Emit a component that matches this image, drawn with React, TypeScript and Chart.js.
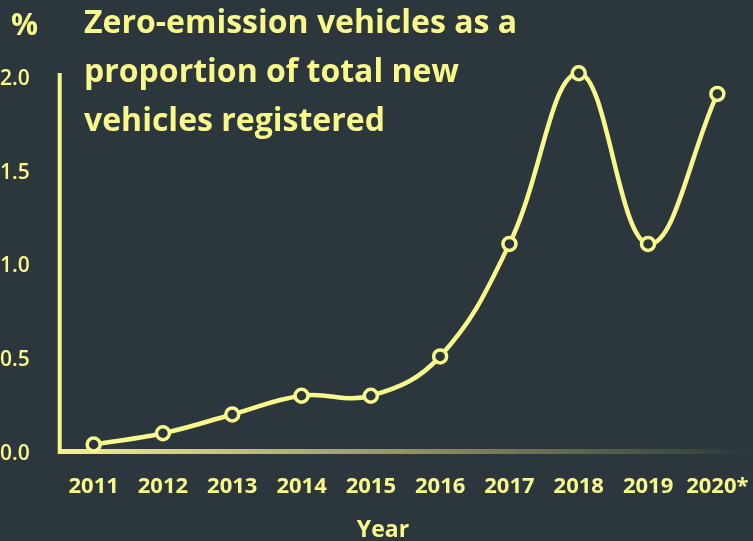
import React, { useEffect, useRef } from "react";
import { Chart, registerables } from "chart.js";

Chart.register(...registerables);

const years = ["2011", "2012", "2013", "2014", "2015", "2016", "2017", "2018", "2019", "2020*"];
const shares = [0.04, 0.1, 0.2, 0.3, 0.3, 0.51, 1.11, 2.02, 1.11, 1.91];
const yMin = 0;
const yMax = 2;
const yStep = 0.5;
const titleLines = ["Zero-emission vehicles as a", "proportion of total new", "vehicles registered"];
const unitLabel = "%";
const xTitle = "Year";

const BG = "#2c363d";
const YEL = "#f9f98b";
const FONT = "'Open Sans', 'Noto Sans', sans-serif";

const decor = {
  id: "decor",
  beforeDraw(chart: any) {
    const { ctx, width, height } = chart;
    ctx.save();
    ctx.fillStyle = BG;
    ctx.fillRect(0, 0, width, height);
    ctx.restore();
  },
  beforeDatasetsDraw(chart: any) {
    const { ctx, chartArea: a } = chart;
    ctx.save();
    const g = ctx.createLinearGradient(a.left, 0, a.right, 0);
    g.addColorStop(0, "rgba(249,249,139,0.97)");
    g.addColorStop(1, "rgba(249,249,139,0)");
    ctx.strokeStyle = g;
    ctx.lineWidth = 5;
    ctx.beginPath();
    ctx.moveTo(a.left - 1, a.bottom - 0.5);
    ctx.lineTo(a.right, a.bottom - 0.5);
    ctx.stroke();
    ctx.strokeStyle = YEL;
    ctx.lineWidth = 4;
    ctx.beginPath();
    ctx.moveTo(a.left + 0.7, a.top - 4);
    ctx.lineTo(a.left + 0.7, a.bottom + 2);
    ctx.stroke();
    ctx.restore();
  },
  afterDraw(chart: any) {
    const { ctx } = chart;
    ctx.save();
    ctx.fillStyle = YEL;
    ctx.textAlign = "left";
    ctx.textBaseline = "alphabetic";
    ctx.font = `bold 32px ${FONT}`;
    titleLines.forEach((t, i) => ctx.fillText(t, 84, 33 + i * 49));
    ctx.font = `bold 30px ${FONT}`;
    ctx.fillText(unitLabel, 11, 35);
    ctx.font = `bold 23px ${FONT}`;
    ctx.textAlign = "center";
    ctx.textBaseline = "middle";
    ctx.fillText(xTitle, 383, 530);
    ctx.restore();
  },
};

export default function App() {
  const ref = useRef<HTMLCanvasElement | null>(null);
  useEffect(() => {
    if (!ref.current) return;
    const chart = new Chart(ref.current, {
      type: "line",
      data: {
        labels: years,
        datasets: [
          {
            data: shares,
            borderColor: YEL,
            borderWidth: 4.5,
            tension: 0.4,
            pointRadius: 6.5,
            pointBorderWidth: 3.5,
            pointBackgroundColor: BG,
            pointBorderColor: YEL,
            clip: false as any,
          },
        ],
      },
      plugins: [decor],
      options: {
        responsive: false,
        animation: false,
        devicePixelRatio: 1,
        layout: { autoPadding: false, padding: { top: 77, right: 1, left: 0, bottom: 0 } },
        plugins: { legend: { display: false }, tooltip: { enabled: false }, title: { display: false } },
        scales: {
          x: {
            offset: true,
            grid: { display: false, drawTicks: false },
            border: { display: false },
            ticks: { color: YEL, font: { family: FONT, size: 22, weight: "bold" }, padding: 22, maxRotation: 0, autoSkip: false },
            afterFit: (s: any) => {
              s.height = 89;
              s.paddingLeft = 0;
              s.paddingRight = 0;
            },
          },
          y: {
            min: yMin,
            max: yMax,
            grid: { display: false, drawTicks: false },
            border: { display: false },
            ticks: {
              stepSize: yStep,
              color: YEL,
              font: { family: FONT, size: 21, weight: "600" },
              crossAlign: "far",
              labelOffset: 2,
              callback: (v: any) => Number(v).toFixed(1),
            },
            afterFit: (s: any) => {
              s.width = 59;
              s.paddingTop = 0;
              s.paddingBottom = 0;
            },
          },
        },
      },
    });
    return () => chart.destroy();
  }, []);
  return (
    <div style={{ position: "absolute", left: 0, top: 0, width: 753, height: 541, background: BG }}>
      <canvas ref={ref} width={753} height={541} style={{ display: "block" }} />
    </div>
  );
}
